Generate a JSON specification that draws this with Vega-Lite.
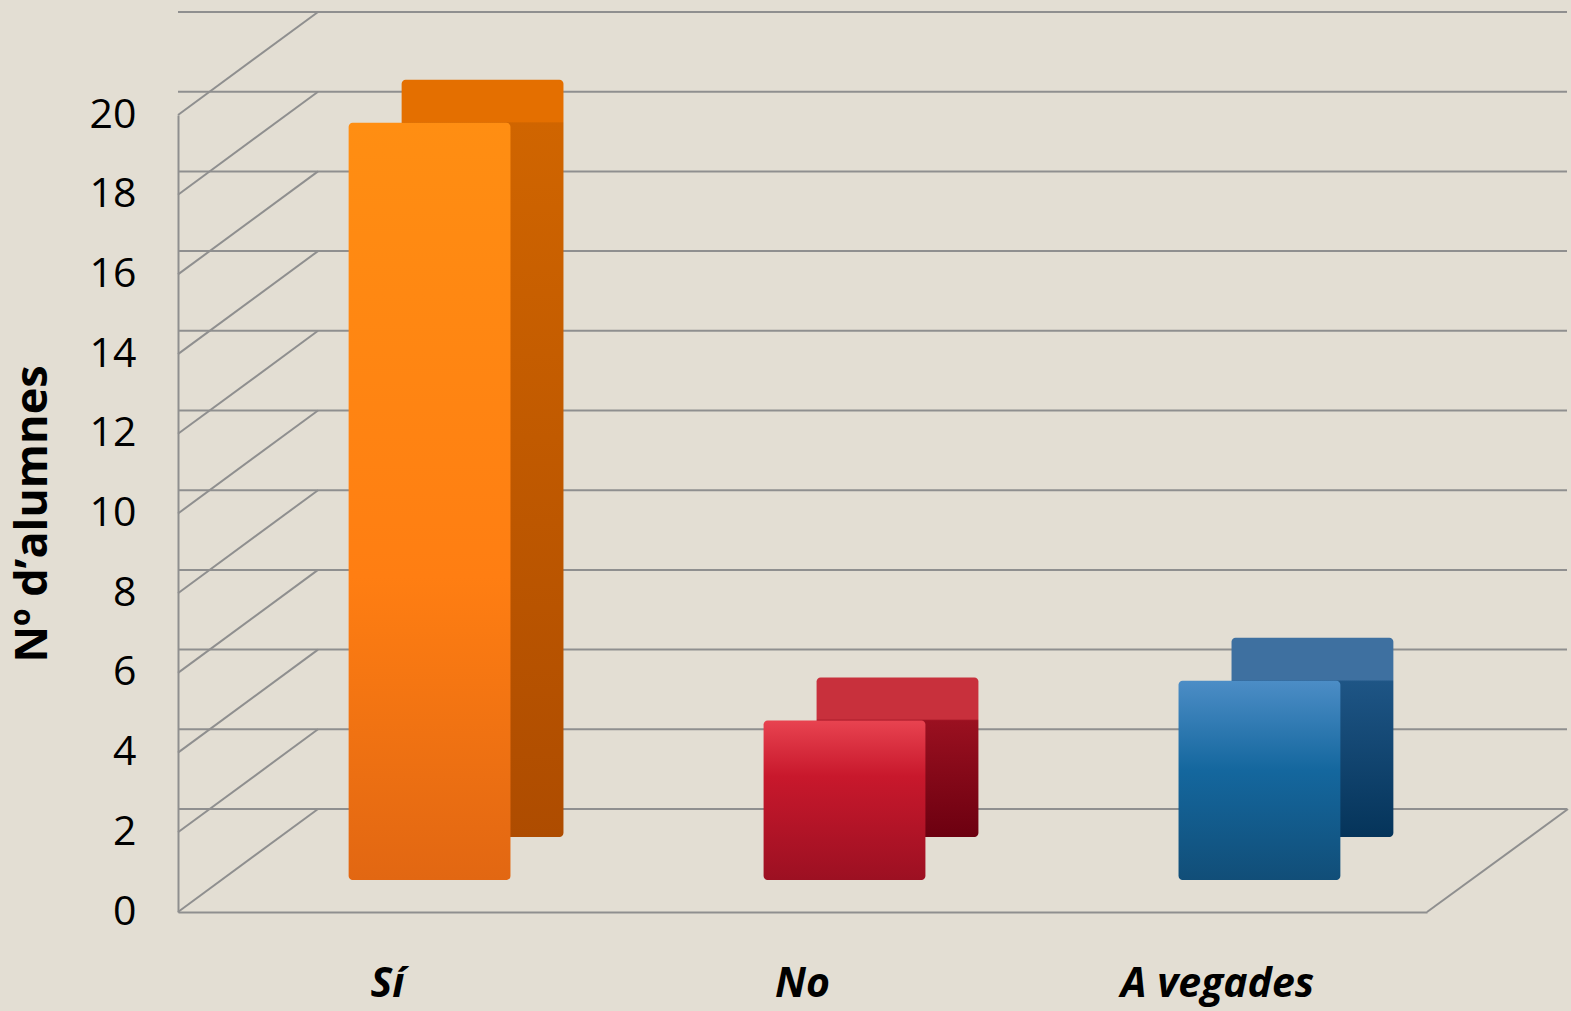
{
  "$schema": "https://vega.github.io/schema/vega-lite/v6.json",
  "width": 1249,
  "height": 797,
  "autosize": {"type": "none"},
  "padding": {"left": 178, "top": 115, "right": 144, "bottom": 99},
  "background": "#E3DED3",
  "config": {
    "view": {"stroke": null},
    "axisY": {
      "domainColor": "#8F8F8F", "domainWidth": 2, "ticks": false, "grid": false,
      "labelFont": "Open Sans", "labelFontSize": 41, "labelColor": "#000000", "labelOverlap": false,
      "labelPadding": 42,
      "titleFont": "Open Sans", "titleFontWeight": "bold", "titleFontSize": 45,
      "titleColor": "#000000", "titlePadding": 34
    },
    "axisX": {
      "domainColor": "#8F8F8F", "domainWidth": 2, "ticks": false, "grid": false,
      "labelFont": "Open Sans", "labelFontStyle": "italic", "labelFontWeight": "bold", "labelFontSize": 41,
      "labelColor": "#000000", "labelPadding": 52, "labelAngle": 0, "labelLimit": 0
    }
  },
  "datasets": {
    "answers": [
      {"resposta": "Sí", "alumnes": 19},
      {"resposta": "No", "alumnes": 4},
      {"resposta": "A vegades", "alumnes": 5}
    ],
    "ticks": [
      {"v": 0}, {"v": 2}, {"v": 4}, {"v": 6}, {"v": 8}, {"v": 10},
      {"v": 12}, {"v": 14}, {"v": 16}, {"v": 18}, {"v": 20}
    ]
  },
  "layer": [
    {
      "data": {"name": "ticks"},
      "mark": {"type": "rule", "color": "#8F8F8F", "strokeWidth": 2, "xOffset": 140, "x2Offset": 141, "yOffset": -103},
      "encoding": {
        "y": {"field": "v", "type": "quantitative", "scale": {"domain": [0, 20], "nice": false}, "title": "Nº d’alumnes", "axis": {"values": [0, 2, 4, 6, 8, 10, 12, 14, 16, 18, 20]}}
      }
    },
    {
      "data": {"name": "ticks"},
      "mark": {"type": "rule", "color": "#8F8F8F", "strokeWidth": 2, "y2Offset": -103},
      "encoding": {
        "x": {"value": 0},
        "x2": {"value": 140},
        "y": {"field": "v", "type": "quantitative", "title": "Nº d’alumnes"},
        "y2": {"field": "v"}
      }
    },
    {
      "data": {"name": "ticks"},
      "transform": [{"filter": "datum.v == 0"}],
      "mark": {"type": "rule", "color": "#8F8F8F", "strokeWidth": 2, "y2Offset": -103},
      "encoding": {
        "x": {"value": 1249},
        "x2": {"value": 1390},
        "y": {"field": "v", "type": "quantitative", "title": "Nº d’alumnes"},
        "y2": {"field": "v"}
      }
    },
    {
      "data": {"name": "answers"},
      "transform": [{"filter": "datum.resposta == 'Sí'"}],
      "mark": {"type": "bar", "xOffset": 95, "x2Offset": 95, "yOffset": -75, "y2Offset": -75, "cornerRadius": 4,
        "fill": {"gradient": "linear", "x1": 0, "y1": 0, "x2": 0, "y2": 1, "stops": [
          {"offset": 0, "color": "#E46F00"}, {"offset": 0.055, "color": "#E46F00"},
          {"offset": 0.057, "color": "#D06500"}, {"offset": 1, "color": "#AE4C00"}]}},
      "encoding": {
        "x": {"field": "resposta", "type": "nominal", "title": null, "scale": {"domain": ["Sí", "No", "A vegades"], "paddingInner": 0.61, "paddingOuter": 0.31}},
        "y": {"field": "alumnes", "type": "quantitative", "stack": null, "title": "Nº d’alumnes"},
        "y2": {"datum": 0}
      }
    },
    {
      "data": {"name": "answers"},
      "transform": [{"filter": "datum.resposta == 'Sí'"}],
      "mark": {"type": "bar", "xOffset": 42, "x2Offset": 42, "yOffset": -32, "y2Offset": -32, "cornerRadius": 4,
        "fill": {"gradient": "linear", "x1": 0, "y1": 0, "x2": 0, "y2": 1, "stops": [
          {"offset": 0, "color": "#FF8E12"}, {"offset": 0.6, "color": "#FF7E12"}, {"offset": 1, "color": "#E26712"}]}},
      "encoding": {
        "x": {"field": "resposta", "type": "nominal", "title": null, "scale": {"domain": ["Sí", "No", "A vegades"], "paddingInner": 0.61, "paddingOuter": 0.31}},
        "y": {"field": "alumnes", "type": "quantitative", "stack": null, "title": "Nº d’alumnes"},
        "y2": {"datum": 0}
      }
    },
    {
      "data": {"name": "answers"},
      "transform": [{"filter": "datum.resposta == 'No'"}],
      "mark": {"type": "bar", "xOffset": 95, "x2Offset": 95, "yOffset": -75, "y2Offset": -75, "cornerRadius": 4,
        "fill": {"gradient": "linear", "x1": 0, "y1": 0, "x2": 0, "y2": 1, "stops": [
          {"offset": 0, "color": "#C8303C"}, {"offset": 0.26, "color": "#C8303C"},
          {"offset": 0.27, "color": "#9A1020"}, {"offset": 1, "color": "#6C0010"}]}},
      "encoding": {
        "x": {"field": "resposta", "type": "nominal", "title": null, "scale": {"domain": ["Sí", "No", "A vegades"], "paddingInner": 0.61, "paddingOuter": 0.31}},
        "y": {"field": "alumnes", "type": "quantitative", "stack": null, "title": "Nº d’alumnes"},
        "y2": {"datum": 0}
      }
    },
    {
      "data": {"name": "answers"},
      "transform": [{"filter": "datum.resposta == 'No'"}],
      "mark": {"type": "bar", "xOffset": 42, "x2Offset": 42, "yOffset": -32, "y2Offset": -32, "cornerRadius": 4,
        "fill": {"gradient": "linear", "x1": 0, "y1": 0, "x2": 0, "y2": 1, "stops": [
          {"offset": 0, "color": "#E84350"}, {"offset": 0.35, "color": "#C8182C"}, {"offset": 1, "color": "#9C1022"}]}},
      "encoding": {
        "x": {"field": "resposta", "type": "nominal", "title": null, "scale": {"domain": ["Sí", "No", "A vegades"], "paddingInner": 0.61, "paddingOuter": 0.31}},
        "y": {"field": "alumnes", "type": "quantitative", "stack": null, "title": "Nº d’alumnes"},
        "y2": {"datum": 0}
      }
    },
    {
      "data": {"name": "answers"},
      "transform": [{"filter": "datum.resposta == 'A vegades'"}],
      "mark": {"type": "bar", "xOffset": 95, "x2Offset": 95, "yOffset": -75, "y2Offset": -75, "cornerRadius": 4,
        "fill": {"gradient": "linear", "x1": 0, "y1": 0, "x2": 0, "y2": 1, "stops": [
          {"offset": 0, "color": "#3E70A0"}, {"offset": 0.21, "color": "#3E70A0"},
          {"offset": 0.22, "color": "#1E5585"}, {"offset": 1, "color": "#05345A"}]}},
      "encoding": {
        "x": {"field": "resposta", "type": "nominal", "title": null, "scale": {"domain": ["Sí", "No", "A vegades"], "paddingInner": 0.61, "paddingOuter": 0.31}},
        "y": {"field": "alumnes", "type": "quantitative", "stack": null, "title": "Nº d’alumnes"},
        "y2": {"datum": 0}
      }
    },
    {
      "data": {"name": "answers"},
      "transform": [{"filter": "datum.resposta == 'A vegades'"}],
      "mark": {"type": "bar", "xOffset": 42, "x2Offset": 42, "yOffset": -32, "y2Offset": -32, "cornerRadius": 4,
        "fill": {"gradient": "linear", "x1": 0, "y1": 0, "x2": 0, "y2": 1, "stops": [
          {"offset": 0, "color": "#4C8DC6"}, {"offset": 0.45, "color": "#14679E"}, {"offset": 1, "color": "#114E78"}]}},
      "encoding": {
        "x": {"field": "resposta", "type": "nominal", "title": null, "scale": {"domain": ["Sí", "No", "A vegades"], "paddingInner": 0.61, "paddingOuter": 0.31}},
        "y": {"field": "alumnes", "type": "quantitative", "stack": null, "title": "Nº d’alumnes"},
        "y2": {"datum": 0}
      }
    }
  ]
}
